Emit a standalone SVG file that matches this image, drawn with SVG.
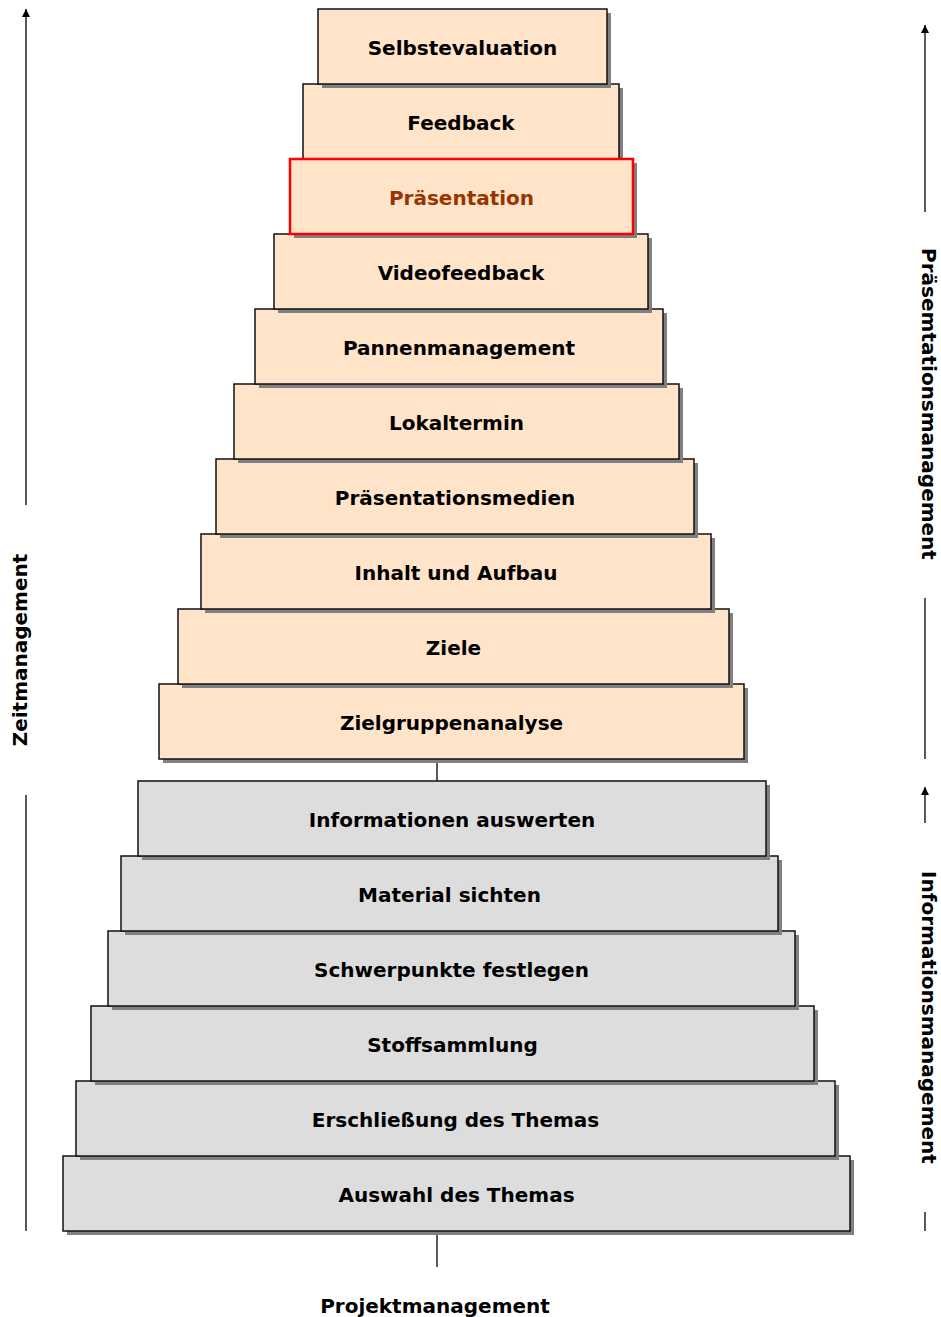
<svg xmlns="http://www.w3.org/2000/svg" width="941" height="1317" viewBox="0 0 941 1317">
<style>
.box{stroke:#111;stroke-width:1.5}
.p{fill:#FFE4CA}
.g{fill:#DDDDDD}
.sh{fill:#808080}
.t{font-family:"DejaVu Sans",Verdana,sans-serif;font-weight:bold;font-size:20px;fill:#000;text-anchor:middle}
.hl{fill:#993300}
.ln{stroke:#000;stroke-width:1.3;fill:none}
</style>
<defs>
<marker id="ah" viewBox="0 0 10 10" refX="10" refY="5" markerWidth="14" markerHeight="8" markerUnits="userSpaceOnUse" orient="auto"><path d="M0,0 L10,5 L0,10 z" fill="#000"/></marker>
</defs>
<g id="connectors">
<line class="ln" x1="26" y1="505" x2="26" y2="9" marker-end="url(#ah)"/>
<line class="ln" x1="26" y1="795" x2="26" y2="1231"/>
<line class="ln" x1="925" y1="212" x2="925" y2="25" marker-end="url(#ah)"/>
<line class="ln" x1="925" y1="598" x2="925" y2="759"/>
<line class="ln" x1="925" y1="823" x2="925" y2="787" marker-end="url(#ah)"/>
<line class="ln" x1="925" y1="1212" x2="925" y2="1231"/>
<line class="ln" x1="437" y1="759" x2="437" y2="781"/>
<line class="ln" x1="437" y1="1235" x2="437" y2="1267"/>
</g>
<g id="n16"><rect class="sh" x="67" y="1160" width="787" height="75"/><rect class="box g" x="63" y="1156" width="787" height="75"/><text class="t" x="456.5" y="1202">Auswahl des Themas</text></g>
<g id="n15"><rect class="sh" x="80" y="1085" width="759" height="75"/><rect class="box g" x="76" y="1081" width="759" height="75"/><text class="t" x="455.5" y="1127">Erschließung des Themas</text></g>
<g id="n14"><rect class="sh" x="95" y="1010" width="723" height="75"/><rect class="box g" x="91" y="1006" width="723" height="75"/><text class="t" x="452.5" y="1052">Stoffsammlung</text></g>
<g id="n13"><rect class="sh" x="112" y="935" width="687" height="75"/><rect class="box g" x="108" y="931" width="687" height="75"/><text class="t" x="451.5" y="977">Schwerpunkte festlegen</text></g>
<g id="n12"><rect class="sh" x="125" y="860" width="657" height="75"/><rect class="box g" x="121" y="856" width="657" height="75"/><text class="t" x="449.5" y="902">Material sichten</text></g>
<g id="n11"><rect class="sh" x="142" y="785" width="628" height="75"/><rect class="box g" x="138" y="781" width="628" height="75"/><text class="t" x="452" y="827">Informationen auswerten</text></g>
<g id="n10"><rect class="sh" x="163" y="688" width="585" height="75"/><rect class="box p" x="159" y="684" width="585" height="75"/><text class="t" x="451.5" y="730">Zielgruppenanalyse</text></g>
<g id="n9"><rect class="sh" x="182" y="613" width="551" height="75"/><rect class="box p" x="178" y="609" width="551" height="75"/><text class="t" x="453.5" y="655">Ziele</text></g>
<g id="n8"><rect class="sh" x="205" y="538" width="510" height="75"/><rect class="box p" x="201" y="534" width="510" height="75"/><text class="t" x="456" y="580">Inhalt und Aufbau</text></g>
<g id="n7"><rect class="sh" x="220" y="463" width="478" height="75"/><rect class="box p" x="216" y="459" width="478" height="75"/><text class="t" x="455" y="505">Präsentationsmedien</text></g>
<g id="n6"><rect class="sh" x="238" y="388" width="445" height="75"/><rect class="box p" x="234" y="384" width="445" height="75"/><text class="t" x="456.5" y="430">Lokaltermin</text></g>
<g id="n5"><rect class="sh" x="259" y="313" width="408" height="75"/><rect class="box p" x="255" y="309" width="408" height="75"/><text class="t" x="459" y="355">Pannenmanagement</text></g>
<g id="n4"><rect class="sh" x="278" y="238" width="374" height="75"/><rect class="box p" x="274" y="234" width="374" height="75"/><text class="t" x="461" y="280">Videofeedback</text></g>
<g id="n2"><rect class="sh" x="307" y="88" width="316" height="75"/><rect class="box p" x="303" y="84" width="316" height="75"/><text class="t" x="461" y="130">Feedback</text></g>
<g id="n1"><rect class="sh" x="322" y="13" width="289" height="75"/><rect class="box p" x="318" y="9" width="289" height="75"/><text class="t" x="462.5" y="55">Selbstevaluation</text></g>
<g id="n3"><rect class="sh" x="294" y="163" width="343" height="75"/><rect class="p" x="290" y="159" width="343" height="75" stroke="#ff0000" stroke-width="2.5"/><text class="t hl" x="461.5" y="205">Präsentation</text></g>
<g id="labels">
<text class="t" x="435" y="1313">Projektmanagement</text>
<text class="t" transform="translate(27,650) rotate(-90)">Zeitmanagement</text>
<text class="t" transform="translate(922,404) rotate(90)">Präsemtationsmanagement</text>
<text class="t" transform="translate(922,1017.5) rotate(90)">Informationsmanagement</text>
</g>
</svg>
